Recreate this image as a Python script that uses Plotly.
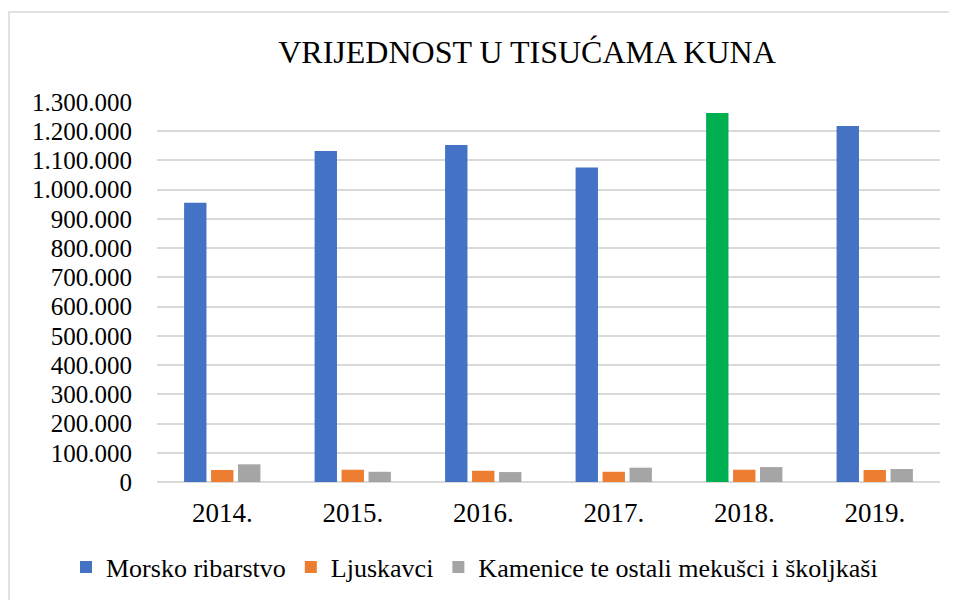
import plotly.graph_objects as go

years = ["2014.", "2015.", "2016.", "2017.", "2018.", "2019."]
morsko = [955000, 1132000, 1153000, 1076000, 1262000, 1218000]
ljuskavci = [41000, 42000, 38500, 35000, 42000, 41000]
kamenice = [60500, 35000, 34000, 49000, 51000, 44500]
y_ticks = list(range(0, 1300001, 100000))

blue = "#4472C4"
green = "#00B050"
orange = "#ED7D31"
gray = "#A5A5A5"
morsko_colors = [green if y == "2018." else blue for y in years]

# page body has an 8px default margin; coordinates below are in figure space
W, H = 957, 600
L, R, T, B = 149, 25, 94, 126
pw, ph = W - L - R, H - T - B

def px_x(x):
    return (x - L) / pw

def px_y(y):
    return (H - B - y) / ph

fig = go.Figure()
fig.add_trace(go.Bar(name="Morsko ribarstvo", x=years, y=morsko,
                     marker=dict(color=morsko_colors, line=dict(width=0))))
fig.add_trace(go.Bar(name="Ljuskavci", x=years, y=ljuskavci,
                     marker=dict(color=orange, line=dict(width=0))))
fig.add_trace(go.Bar(name="Kamenice te ostali mekušci i školjkaši", x=years, y=kamenice,
                     marker=dict(color=gray, line=dict(width=0))))

font_family = "Liberation Serif, Times New Roman, serif"

fig.update_layout(
    width=W, height=H,
    margin=dict(l=L, r=R, t=T, b=B, autoexpand=False),
    paper_bgcolor="white", plot_bgcolor="white",
    separators=",.",
    barmode="group", bargap=0.38, bargroupgap=0.17,
    font=dict(family=font_family, color="black", size=24),
    title=dict(text="VRIJEDNOST U TISUĆAMA KUNA", x=px_x(519), xref="paper",
               xanchor="center", y=1 - 44 / H, yanchor="middle",
               font=dict(size=32, family=font_family, color="black")),
    showlegend=True,
    legend=dict(orientation="h", x=px_x(58), xanchor="left", y=px_y(559),
                yanchor="middle", font=dict(size=26, family=font_family),
                itemwidth=30, traceorder="normal", bgcolor="rgba(0,0,0,0)"),
    xaxis=dict(showgrid=False, showline=False, ticks="", zeroline=False,
               tickfont=dict(size=27), ticklabelstandoff=12),
    yaxis=dict(range=[0, 1300000], tickvals=y_ticks, tickformat=",.0f",
               showgrid=True, gridcolor="#D9D9D9", gridwidth=1.5,
               zeroline=True, zerolinecolor="#D9D9D9", zerolinewidth=1.5,
               showline=False, ticks="", tickfont=dict(size=25),
               ticklabelstandoff=24),
    shapes=[dict(type="rect", xref="paper", yref="paper",
                 x0=px_x(1), x1=px_x(W + 20), y0=px_y(H + 20), y1=px_y(4),
                 line=dict(color="#D9D9D9", width=1.5), fillcolor="rgba(0,0,0,0)",
                 layer="below")],
)

fig.write_html("out.html")
